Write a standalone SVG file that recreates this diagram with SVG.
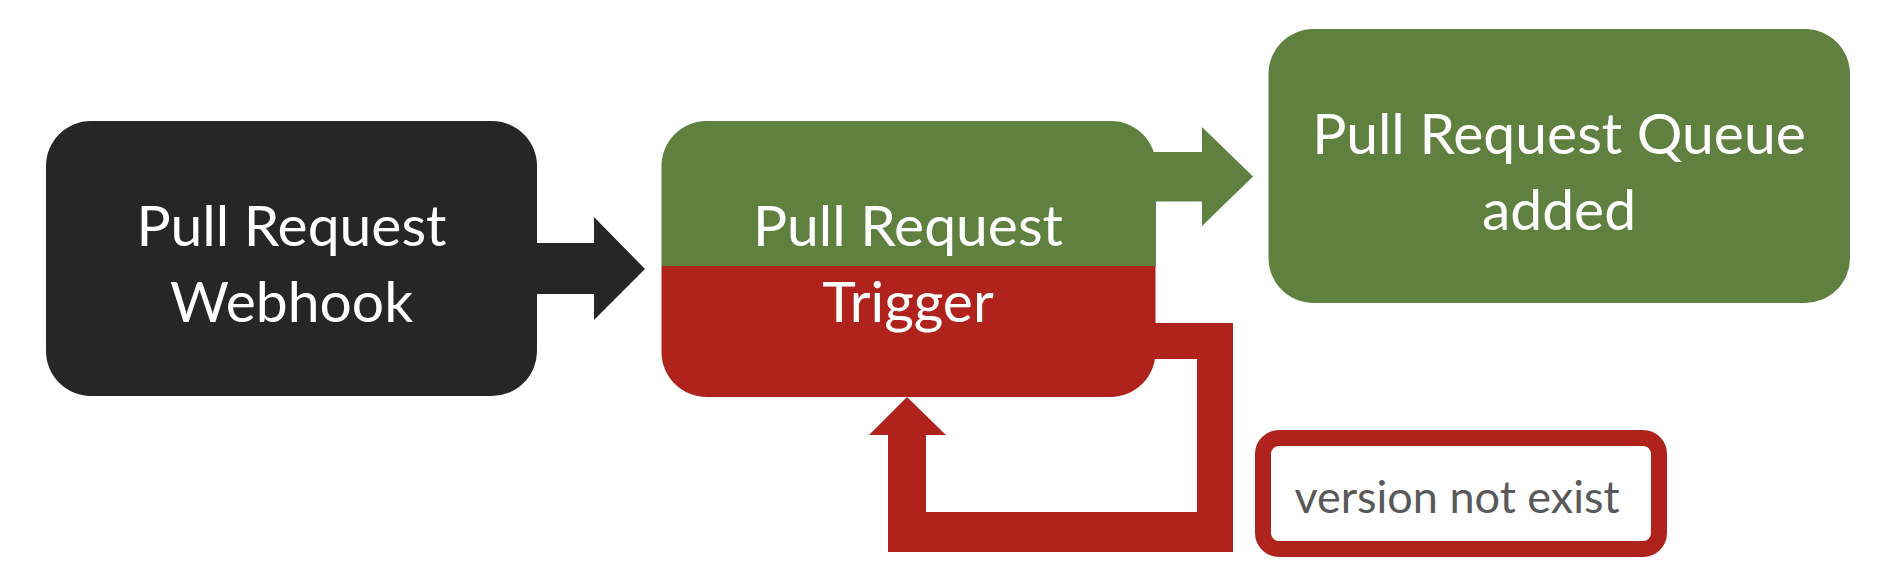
<svg xmlns="http://www.w3.org/2000/svg" width="1896" height="584" viewBox="0 0 1896 584">
<style>
.lbl{font-family:Lato,"Open Sans","Liberation Sans",sans-serif;font-size:57px;fill:#ffffff;text-anchor:middle;font-weight:400}
.note{font-family:Lato,"Open Sans","Liberation Sans",sans-serif;font-size:45px;fill:#595959;text-anchor:middle;font-weight:400}
.green{fill:#608040}
.red{fill:#AF231C}
.dark{fill:#262626}
</style>
<rect width="1896" height="584" fill="#ffffff"/>
<g id="connectors">
  <polygon class="dark" points="530,243 594,243 594,217 645,269 594,320 594,294 530,294"/>
  <polygon class="green" points="1140,152 1202,152 1202,127 1253,176.5 1202,226 1202,201.5 1140,201.5"/>
  <polygon class="red" points="1140,323 1233,323 1233,552 888,552 888,435 869,435 907,397 946,435 926,435 926,512 1197,512 1197,359 1140,359"/>
</g>
<g id="node-webhook">
  <rect class="dark" x="46" y="121" width="491" height="275" rx="45" ry="45"/>
  <text class="lbl" x="291.5" y="246">Pull Request</text>
  <text class="lbl" x="291.5" y="321.7">Webhook</text>
</g>
<g id="node-trigger">
  <path class="green" d="M661.5 266 V166 A45 45 0 0 1 706.5 121 H1111 A45 45 0 0 1 1156 166 V266 Z"/>
  <path class="red" d="M661.5 266 H1155.5 V352 A45 45 0 0 1 1110.5 397 H706.5 A45 45 0 0 1 661.5 352 Z"/>
  <text class="lbl" x="908" y="246">Pull Request</text>
  <text class="lbl" x="908" y="321.7">Trigger</text>
</g>
<g id="node-queue">
  <rect class="green" x="1268.5" y="29" width="581.5" height="274" rx="45" ry="45"/>
  <text class="lbl" x="1559" y="154">Pull Request Queue</text>
  <text class="lbl" x="1559" y="230">added</text>
</g>
<g id="label-version">
  <rect x="1263" y="438" width="396" height="111" rx="16" ry="16" fill="#ffffff" stroke="#AF231C" stroke-width="16"/>
  <text class="note" x="1457" y="512.7">version not exist</text>
</g>
</svg>
